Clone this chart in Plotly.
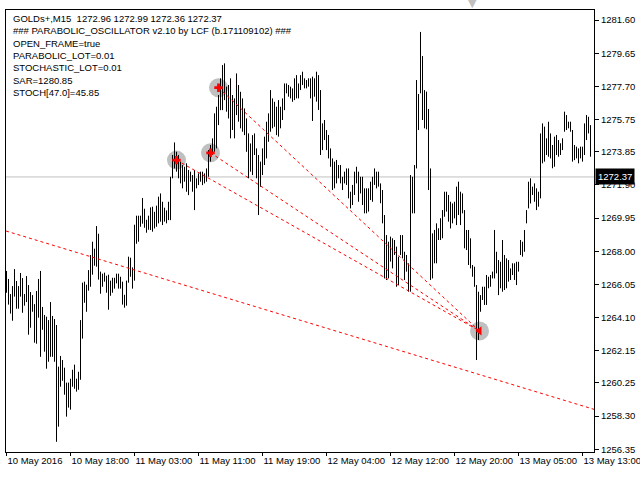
import plotly.graph_objects as go

SYMBOL = "GOLDs+,M15"
LAST_OHLC = [1272.96, 1272.99, 1272.36, 1272.37]
INFO_LINES = [
    "### PARABOLIC_OSCILLATOR v2.10 by LCF (b.171109102) ###",
    "OPEN_FRAME=true",
    "PARABOLIC_LOT=0.01",
    "STOCHASTIC_LOT=0.01",
    "SAR=1280.85",
    "STOCH[47.0]=45.85",
]

# M15 bars, high / low
HIGHS = [
    1266.84, 1266.37, 1265.48, 1265.95, 1266.95, 1266.25, 1265.95, 1266.72, 1266.42, 1265.48,
    1266.54, 1266.01, 1265.60, 1265.42, 1264.89, 1265.66, 1266.37, 1266.84, 1264.72, 1264.25,
    1264.15, 1263.95, 1265.01, 1264.19, 1264.01, 1263.66, 1261.21, 1261.84, 1261.60, 1261.15,
    1260.27, 1260.27, 1260.50, 1261.03, 1261.33, 1260.50, 1260.91, 1263.95, 1266.15, 1266.21,
    1266.03, 1266.89, 1267.78, 1268.56, 1268.15, 1269.48, 1269.03, 1266.80, 1266.68, 1266.74,
    1266.56, 1266.62, 1266.27, 1266.44, 1266.44, 1266.68, 1266.68, 1266.50, 1266.21, 1265.44,
    1266.27, 1267.68, 1267.62, 1267.05, 1269.56, 1270.09, 1270.09, 1270.09, 1271.13, 1270.50,
    1269.85, 1270.09,
    1270.58, 1270.62, 1270.32, 1270.68, 1271.21, 1271.40, 1270.91, 1270.56, 1270.40, 1270.91,
    1272.38, 1273.66, 1274.40, 1273.85, 1273.66, 1273.27, 1273.07, 1272.97, 1273.17, 1272.78,
    1272.68, 1272.48, 1272.78, 1272.29, 1272.58, 1272.68, 1272.68, 1272.58, 1272.87, 1273.95,
    1274.25, 1274.64, 1276.11, 1276.50, 1277.19, 1278.17, 1278.95, 1279.05, 1277.68, 1277.78,
    1278.17, 1277.19, 1276.99, 1278.46, 1277.78, 1277.38, 1276.99, 1276.40, 1275.81, 1274.93,
    1274.34, 1274.83, 1274.93, 1274.05, 1273.66, 1273.27, 1274.05, 1274.74, 1275.62, 1276.11,
    1277.48, 1276.99, 1276.79, 1276.50, 1276.89, 1276.50, 1276.99, 1277.87, 1277.87, 1277.78,
    1277.68, 1277.58, 1278.17, 1278.36,
    1277.87, 1278.36, 1278.56, 1278.17, 1278.07, 1278.17, 1278.17, 1278.27, 1278.17, 1278.56,
    1278.36, 1277.48, 1275.52, 1275.72, 1275.13, 1274.84, 1274.05, 1273.46, 1273.27, 1273.37,
    1273.07, 1273.07, 1272.38, 1272.68, 1272.87, 1272.87, 1271.50, 1271.90, 1272.68, 1272.97,
    1272.68, 1272.38, 1272.38, 1271.70, 1271.70, 1271.70, 1272.09, 1272.38, 1272.87, 1272.68,
    1272.68, 1271.99, 1271.60, 1270.13, 1268.95, 1268.56, 1268.86, 1268.76, 1268.66, 1268.27,
    1267.68, 1268.95, 1268.95, 1267.97, 1267.78, 1267.29, 1272.48, 1272.38, 1273.07, 1278.07,
    1277.25, 1280.90, 1279.48, 1277.48, 1277.39, 1276.37, 1272.87, 1269.05, 1269.25, 1269.64,
    1269.35, 1269.94, 1270.42, 1271.50, 1271.50,
    1271.31, 1270.91, 1270.81, 1270.91, 1271.80, 1272.09, 1271.50, 1271.40, 1270.42, 1269.25,
    1269.25, 1268.76, 1267.19, 1267.09, 1266.01, 1265.62, 1265.42, 1265.91, 1265.91, 1266.60,
    1266.50, 1266.60, 1266.80, 1269.25, 1267.97, 1267.48, 1267.38, 1268.66, 1267.78, 1267.58,
    1267.48, 1266.99, 1267.29, 1267.29, 1267.38, 1267.38, 1268.66, 1268.56, 1269.25, 1270.42,
    1272.09, 1272.29, 1271.80, 1271.99, 1271.70, 1271.50, 1274.93, 1275.52, 1275.33, 1274.64,
    1275.62, 1274.93, 1274.25, 1274.74, 1274.84, 1274.54, 1274.35, 1274.64, 1276.21, 1276.01,
    1275.62, 1275.62, 1275.13, 1274.25, 1274.15, 1274.05, 1274.15, 1274.15, 1275.52, 1276.01,
    1275.91, 1275.42,
]
LOWS = [
    1265.56, 1264.86, 1264.33, 1263.91, 1265.33, 1264.62, 1264.62, 1265.33, 1264.38, 1264.80,
    1265.01, 1263.09, 1263.50, 1264.44, 1262.62, 1262.56, 1264.09, 1261.79, 1263.38, 1262.09,
    1261.09, 1261.50, 1261.79, 1261.79, 1261.50, 1256.79, 1257.68, 1260.03, 1260.38, 1259.56,
    1258.27, 1258.80, 1258.68, 1260.03, 1259.91, 1259.74, 1259.85, 1260.44, 1262.86, 1264.97,
    1264.44, 1265.68, 1265.91, 1266.62, 1267.15, 1267.09, 1266.33, 1265.50, 1265.91, 1266.21,
    1265.56, 1264.56, 1265.38, 1265.56, 1265.80, 1266.11, 1265.80, 1265.80, 1264.86, 1264.68,
    1264.80, 1266.15, 1266.50, 1265.80, 1266.27, 1268.44, 1268.56, 1269.44, 1269.62, 1269.38,
    1269.09, 1269.26,
    1269.25, 1269.15, 1269.34, 1269.44, 1269.64, 1269.74, 1269.54, 1269.74, 1269.64, 1269.83,
    1269.83, 1272.29, 1272.87, 1272.68, 1272.29, 1271.99, 1271.70, 1272.09, 1271.50, 1271.30,
    1272.09, 1271.50, 1270.42, 1271.70, 1271.89, 1272.09, 1271.89, 1271.99, 1272.09, 1272.38,
    1273.27, 1273.66, 1273.85, 1274.05, 1275.42, 1276.30, 1276.30, 1276.89, 1276.21, 1275.81,
    1274.64, 1275.13, 1274.64, 1276.01, 1275.62, 1275.23, 1275.03, 1274.83, 1273.85, 1272.29,
    1272.68, 1272.48, 1273.66, 1272.29, 1270.13, 1271.79, 1272.48, 1273.07, 1273.46, 1274.44,
    1275.03, 1275.23, 1275.32, 1274.83, 1274.74, 1275.23, 1275.72, 1276.30, 1277.29, 1277.09,
    1276.99, 1276.79, 1276.89, 1276.99,
    1276.99, 1277.48, 1277.78, 1277.58, 1277.58, 1277.68, 1276.99, 1275.66, 1277.09, 1276.80,
    1276.31, 1273.66, 1273.95, 1274.54, 1273.95, 1273.46, 1272.97, 1271.60, 1271.70, 1271.99,
    1272.29, 1271.99, 1271.60, 1271.99, 1271.90, 1271.11, 1270.52, 1270.72, 1271.31, 1271.99,
    1270.91, 1271.40, 1270.72, 1270.23, 1270.23, 1270.33, 1271.01, 1270.91, 1271.90, 1271.70,
    1271.80, 1270.82, 1269.64, 1266.40, 1266.31, 1266.40, 1267.39, 1266.99, 1267.78, 1265.91,
    1266.01, 1267.78, 1267.58, 1266.31, 1266.80, 1265.62, 1265.62, 1270.23, 1270.23, 1272.87,
    1275.13, 1277.29, 1275.72, 1275.23, 1275.17, 1271.60, 1266.31, 1266.40, 1267.29, 1267.29,
    1268.66, 1268.66, 1268.76, 1270.03, 1270.33,
    1269.74, 1269.34, 1269.64, 1269.93, 1269.54, 1270.13, 1269.54, 1270.23, 1268.17, 1268.07,
    1267.19, 1266.99, 1266.50, 1265.91, 1261.60, 1262.78, 1264.44, 1265.13, 1264.84, 1264.84,
    1265.82, 1265.91, 1266.40, 1266.40, 1266.70, 1265.42, 1265.82, 1265.62, 1265.72, 1265.82,
    1266.21, 1266.31, 1266.60, 1266.31, 1266.01, 1266.80, 1267.78, 1267.68, 1267.97, 1269.64,
    1270.52, 1270.81, 1271.31, 1270.91, 1270.42, 1270.62, 1271.11, 1273.17, 1273.27, 1273.66,
    1273.56, 1273.46, 1272.88, 1272.97, 1273.66, 1273.56, 1273.66, 1273.95, 1275.03, 1275.13,
    1275.23, 1275.03, 1273.27, 1273.36, 1273.46, 1273.17, 1273.46, 1273.27, 1273.66, 1274.54,
    1274.93, 1273.56,
]

TIME_LABELS = [
    "10 May 2016", "10 May 18:00", "11 May 03:00", "11 May 11:00", "11 May 19:00",
    "12 May 04:00", "12 May 12:00", "12 May 20:00", "13 May 05:00", "13 May 13:00",
]
TIME_LABEL_BARS = [0, 32, 64, 96, 128, 160, 192, 224, 256, 288]
PRICE_TICKS = [
    1281.60, 1279.65, 1277.70, 1275.75, 1273.85, 1271.90, 1269.95,
    1268.00, 1266.05, 1264.10, 1262.15, 1260.25, 1258.30, 1256.35,
]
BID = 1272.37

# indicator swing points and the pivot they point to
SWING_BARS = [85, 102, 106]
SWING_PRICES = [1273.36, 1273.79, 1277.62]
PIVOT_BAR = 236.5
PIVOT_PRICE = 1263.31
TREND_BARS = [-0.25, 293.75]
TREND_PRICES = [1269.19, 1258.70]
TOP_MARK_BAR = 233

X_RANGE = [-0.25, 293.75]
Y_RANGE = [1256.19, 1282.19]

bx, by = [], []
for i, (h, l) in enumerate(zip(HIGHS, LOWS)):
    bx += [i, i, None]
    by += [l, h, None]

sx, sy = [], []
for b, p in zip(SWING_BARS, SWING_PRICES):
    sx += [b, PIVOT_BAR, None]
    sy += [p, PIVOT_PRICE, None]

fig = go.Figure()
fig.add_trace(go.Scatter(x=X_RANGE, y=[BID, BID], mode="lines",
                         line=dict(color="#C0C0C0", width=1)))
fig.add_trace(go.Scatter(x=SWING_BARS + [PIVOT_BAR], y=SWING_PRICES + [PIVOT_PRICE],
                         mode="markers", marker=dict(size=19, color="#C0C0C0")))
fig.add_trace(go.Scatter(x=bx, y=by, mode="lines", line=dict(color="black", width=1)))
fig.add_trace(go.Scatter(x=sx, y=sy, mode="lines",
                         line=dict(color="red", width=1, dash="3px,3px")))
fig.add_trace(go.Scatter(x=TREND_BARS, y=TREND_PRICES, mode="lines",
                         line=dict(color="red", width=1, dash="3px,3px")))
fig.add_trace(go.Scatter(x=SWING_BARS, y=SWING_PRICES, mode="markers",
                         marker=dict(symbol="cross", size=7, color="red")))
fig.add_trace(go.Scatter(x=[PIVOT_BAR], y=[PIVOT_PRICE], mode="markers",
                         marker=dict(symbol="triangle-left", size=8, color="red")))

header = SYMBOL + "\u00a0\u00a0" + " ".join(f"{v:.2f}" for v in LAST_OHLC)
fig.add_annotation(
    text="<br>".join([header] + INFO_LINES),
    xref="paper", yref="paper", x=0, y=1, xanchor="left", yanchor="top",
    xshift=5, yshift=-1, align="left", showarrow=False,
    font=dict(size=9.5, color="black"),
)
fig.add_annotation(
    text=f"{BID:.2f}", xref="paper", yref="y", x=1, y=BID,
    xanchor="left", yanchor="middle", xshift=1, showarrow=False,
    bgcolor="black", font=dict(size=9.5, color="white"),
    borderpad=2,
)
# small grey marker sitting on the top edge
fig.add_annotation(
    text="\u25bc", xref="x", yref="paper", x=TOP_MARK_BAR, y=1,
    xanchor="center", yanchor="bottom", yshift=-2, showarrow=False,
    font=dict(size=11, color="#C0C0C0", family="DejaVu Sans"),
)

fig.update_layout(
    width=640, height=480,
    margin=dict(l=6, r=46, t=10, b=28),
    paper_bgcolor="white", plot_bgcolor="white",
    showlegend=False,
    font=dict(family="Liberation Sans", size=9.5, color="black"),
)
fig.update_xaxes(
    range=X_RANGE, showgrid=False, zeroline=False, automargin=False,
    showline=True, linecolor="black", linewidth=1, mirror=True,
    tickmode="array", tickvals=TIME_LABEL_BARS, ticktext=TIME_LABELS,
    ticks="outside", ticklen=3, tickcolor="black", tickangle=0,
    ticklabelposition="outside right", ticklabeloverflow="allow",
)
fig.update_yaxes(
    range=Y_RANGE, side="right", showgrid=False, zeroline=False, automargin=False,
    showline=True, linecolor="black", linewidth=1, mirror=True,
    tickmode="array", tickvals=PRICE_TICKS,
    ticktext=[f"{v:.2f}" for v in PRICE_TICKS],
    ticks="outside", ticklen=4, tickcolor="black",
)

# the page body gets a default 8px margin; drop it so the chart sits at 0,0
fig.write_html("out.html", config={"displayModeBar": False},
               post_script="document.body.style.margin='0';")
